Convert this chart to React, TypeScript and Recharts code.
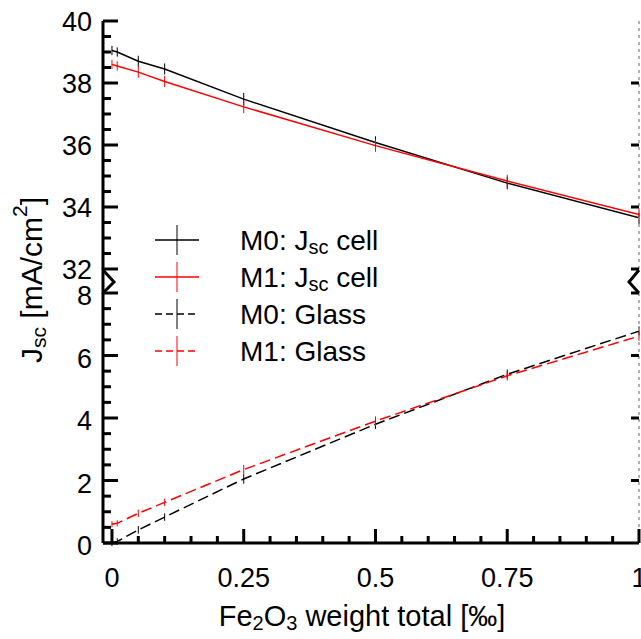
import React from "react";
import { LineChart, Line, XAxis, YAxis, ErrorBar } from "recharts";

const X_VALUES = [0, 0.01, 0.05, 0.1, 0.25, 0.5, 0.75, 1];
const M0_CELL = [39.05, 39.0, 38.7, 38.45, 37.48, 36.08, 34.77, 33.65];
const M1_CELL = [38.6, 38.55, 38.35, 38.05, 37.23, 35.98, 34.84, 33.76];
const CELL_ERR = [0.15, 0.15, 0.18, 0.18, 0.2, 0.2, 0.2, 0.2];
const M0_GLASS = [0, 0.05, 0.42, 0.83, 2.05, 3.8, 5.4, 6.78];
const M1_GLASS = [0.6, 0.63, 0.95, 1.3, 2.35, 3.9, 5.35, 6.62];
const GLASS_ERR = [0.1, 0.1, 0.12, 0.12, 0.15, 0.15, 0.15, 0.15];

const SERIES_NAMES = ["M0: J|sc| cell", "M1: J|sc| cell", "M0: Glass", "M1: Glass"];
const SERIES_COLORS = ["#000000", "#ff0000", "#000000", "#ff0000"];

const X_TICKS = [0, 0.05, 0.1, 0.15, 0.2, 0.25, 0.3, 0.35, 0.4, 0.45, 0.5, 0.55, 0.6, 0.65, 0.7, 0.75, 0.8, 0.85, 0.9, 0.95, 1];
const X_MAJOR = [0, 0.25, 0.5, 0.75, 1];
const Y_TOP_TICKS = [32, 32.5, 33, 33.5, 34, 34.5, 35, 35.5, 36, 36.5, 37, 37.5, 38, 38.5, 39, 39.5, 40];
const Y_TOP_MAJOR = [32, 34, 36, 38, 40];
const Y_TOP_RIGHT = [32, 34, 36, 38];
const Y_BOTTOM_TICKS = [0, 0.5, 1, 1.5, 2, 2.5, 3, 3.5, 4, 4.5, 5, 5.5, 6, 6.5, 7, 7.5, 8];
const Y_BOTTOM_MAJOR = [0, 2, 4, 6, 8];
const Y_BOTTOM_RIGHT = [2, 4, 6, 8];

const rows = X_VALUES.map((x, i) => ({
  x,
  m0Cell: M0_CELL[i],
  m1Cell: M1_CELL[i],
  cellErr: CELL_ERR[i],
  m0Glass: M0_GLASS[i],
  m1Glass: M1_GLASS[i],
  glassErr: GLASS_ERR[i]
}));

const FONT = "'Liberation Sans', Arial, sans-serif";
const W = 641;
const H = 639;

const isIn = (list: number[], v: number) => list.some((m) => Math.abs(m - v) < 1e-6);

const XTick = (side: "top" | "bottom") => (props: any) => {
  const { x, y, payload } = props;
  const major = isIn(X_MAJOR, payload.value);
  const len = major ? 14 : 7;
  const y2 = side === "top" ? y + len : y - len;
  return (
    <g>
      <line x1={x} y1={y} x2={x} y2={y2} stroke="#000" strokeWidth={3} />
      {side === "bottom" && major ? (
        <text x={x} y={y + 35} textAnchor="middle" dominantBaseline="central" fontSize={27} fontFamily={FONT} fill="#000">
          {String(payload.value)}
        </text>
      ) : null}
    </g>
  );
};

const YTickLeft = (majors: number[], nudge: number) => (props: any) => {
  const { x, y, payload } = props;
  const major = isIn(majors, payload.value);
  return (
    <g>
      <line x1={x} y1={y} x2={x + (major ? 15 : 8)} y2={y} stroke="#000" strokeWidth={3} />
      {major ? (
        <text x={x - 11} y={y + nudge} textAnchor="end" dominantBaseline="central" fontSize={27} fontFamily={FONT} fill="#000">
          {String(payload.value)}
        </text>
      ) : null}
    </g>
  );
};

const YTickRight = (props: any) => {
  const { x, y } = props;
  return <line x1={x} y1={y} x2={x - 8} y2={y} stroke="#000" strokeWidth={3} />;
};

const LegendText = ({ label, x, y }: { label: string; x: number; y: number }) => {
  const parts = label.split("|");
  return (
    <text x={x} y={y} dominantBaseline="central" fontSize={28} fontFamily={FONT} fill="#000">
      <tspan>{parts[0]}</tspan>
      {parts.length > 1 ? (
        <>
          <tspan dy={7} fontSize={20}>{parts[1]}</tspan>
          <tspan dy={-7}>{parts[2]}</tspan>
        </>
      ) : null}
    </text>
  );
};

const App = () => {
  const top = { top: 21, right: 0, bottom: H - 269, left: 0 };
  const bottom = { top: 293, right: 0, bottom: H - 543 - 40, left: 0 };
  const legendY = [240, 277, 314, 351];
  return (
    <div style={{ position: "absolute", left: 0, top: 0, width: W, height: H, background: "#fff" }}>
      <div style={{ position: "absolute", left: 0, top: 0 }}>
        <LineChart width={W} height={H} data={rows} margin={top}>
          <XAxis
            dataKey="x"
            type="number"
            orientation="top"
            domain={[-0.017, 1]}
            allowDataOverflow
            ticks={X_TICKS}
            interval={0}
            height={0}
            tickSize={0}
            tickMargin={0}
            tickLine={false}
            axisLine={{ stroke: "#000", strokeWidth: 3 }}
            tick={XTick("top")}
          />
          <YAxis
            yAxisId="l"
            type="number"
            domain={[32, 40]}
            allowDataOverflow
            ticks={Y_TOP_TICKS}
            interval={0}
            width={103}
            tickSize={0}
            tickMargin={0}
            tickLine={false}
            axisLine={{ stroke: "#000", strokeWidth: 3 }}
            tick={YTickLeft(Y_TOP_MAJOR, 1)}
          />
          <YAxis
            yAxisId="r"
            orientation="right"
            type="number"
            domain={[32, 40]}
            allowDataOverflow
            ticks={Y_TOP_RIGHT}
            interval={0}
            width={2}
            tickSize={0}
            tickMargin={0}
            tickLine={false}
            axisLine={{ stroke: "#999", strokeWidth: 1.5, strokeDasharray: "3 4" }}
            tick={YTickRight}
          />
          <Line yAxisId="l" dataKey="m0Cell" stroke={SERIES_COLORS[0]} strokeWidth={1.5} dot={false} isAnimationActive={false}>
            <ErrorBar dataKey="cellErr" width={0} stroke={SERIES_COLORS[0]} strokeWidth={1} />
          </Line>
          <Line yAxisId="l" dataKey="m1Cell" stroke={SERIES_COLORS[1]} strokeWidth={1.5} dot={false} isAnimationActive={false}>
            <ErrorBar dataKey="cellErr" width={0} stroke={SERIES_COLORS[1]} strokeWidth={1} />
          </Line>
        </LineChart>
      </div>
      <div style={{ position: "absolute", left: 0, top: 0 }}>
        <LineChart width={W} height={H} data={rows} margin={bottom}>
          <XAxis
            dataKey="x"
            type="number"
            domain={[-0.017, 1]}
            allowDataOverflow
            ticks={X_TICKS}
            interval={0}
            height={40}
            tickSize={0}
            tickMargin={0}
            tickLine={false}
            axisLine={{ stroke: "#000", strokeWidth: 3 }}
            tick={XTick("bottom")}
          />
          <YAxis
            yAxisId="l"
            type="number"
            domain={[0, 8]}
            allowDataOverflow
            ticks={Y_BOTTOM_TICKS}
            interval={0}
            width={103}
            tickSize={0}
            tickMargin={0}
            tickLine={false}
            axisLine={{ stroke: "#000", strokeWidth: 3 }}
            tick={YTickLeft(Y_BOTTOM_MAJOR, 3)}
          />
          <YAxis
            yAxisId="r"
            orientation="right"
            type="number"
            domain={[0, 8]}
            allowDataOverflow
            ticks={Y_BOTTOM_RIGHT}
            interval={0}
            width={2}
            tickSize={0}
            tickMargin={0}
            tickLine={false}
            axisLine={{ stroke: "#999", strokeWidth: 1.5, strokeDasharray: "3 4" }}
            tick={YTickRight}
          />
          <Line yAxisId="l" dataKey="m0Glass" stroke={SERIES_COLORS[2]} strokeWidth={1.5} strokeDasharray="11 5" dot={false} isAnimationActive={false}>
            <ErrorBar dataKey="glassErr" width={0} stroke={SERIES_COLORS[2]} strokeWidth={1} />
          </Line>
          <Line yAxisId="l" dataKey="m1Glass" stroke={SERIES_COLORS[3]} strokeWidth={1.5} strokeDasharray="11 5" dot={false} isAnimationActive={false}>
            <ErrorBar dataKey="glassErr" width={0} stroke={SERIES_COLORS[3]} strokeWidth={1} />
          </Line>
        </LineChart>
      </div>
      <svg width={W} height={H} style={{ position: "absolute", left: 0, top: 0, pointerEvents: "none" }}>
        {/* axis break marks */}
        <line x1={103} y1={268} x2={103} y2={294} stroke="#000" strokeWidth={3} />
        <polyline points="103,270 114,282 103,293" fill="none" stroke="#000" strokeWidth={3} />
        <polyline points="639,270 629,282 639,293" fill="none" stroke="#000" strokeWidth={3} />
        {/* legend */}
        {SERIES_NAMES.map((name, i) => (
          <g key={name}>
            <line x1={155} y1={legendY[i]} x2={199} y2={legendY[i]} stroke={SERIES_COLORS[i]} strokeWidth={1.5} strokeDasharray={i > 1 ? "7 4" : undefined} />
            <line x1={177} y1={legendY[i] - 15} x2={177} y2={legendY[i] + 15} stroke={SERIES_COLORS[i]} strokeWidth={1} />
            <LegendText label={name} x={240} y={legendY[i]} />
          </g>
        ))}
        {/* axis titles */}
        <text transform="translate(31,280) rotate(-90)" textAnchor="middle" dominantBaseline="central" fontSize={30} fontFamily={FONT} fill="#000">
          <tspan>J</tspan>
          <tspan dy={7} fontSize={21}>sc</tspan>
          <tspan dy={-7}> [mA/cm</tspan>
          <tspan dy={-12} fontSize={21}>2</tspan>
          <tspan dy={12}>]</tspan>
        </text>
        <text x={362} y={616} textAnchor="middle" dominantBaseline="central" fontSize={29} fontFamily={FONT} fill="#000">
          <tspan>Fe</tspan>
          <tspan dy={7} fontSize={20}>2</tspan>
          <tspan dy={-7}>O</tspan>
          <tspan dy={7} fontSize={20}>3</tspan>
          <tspan dy={-7}> weight total [‰]</tspan>
        </text>
      </svg>
    </div>
  );
};

export default App;
